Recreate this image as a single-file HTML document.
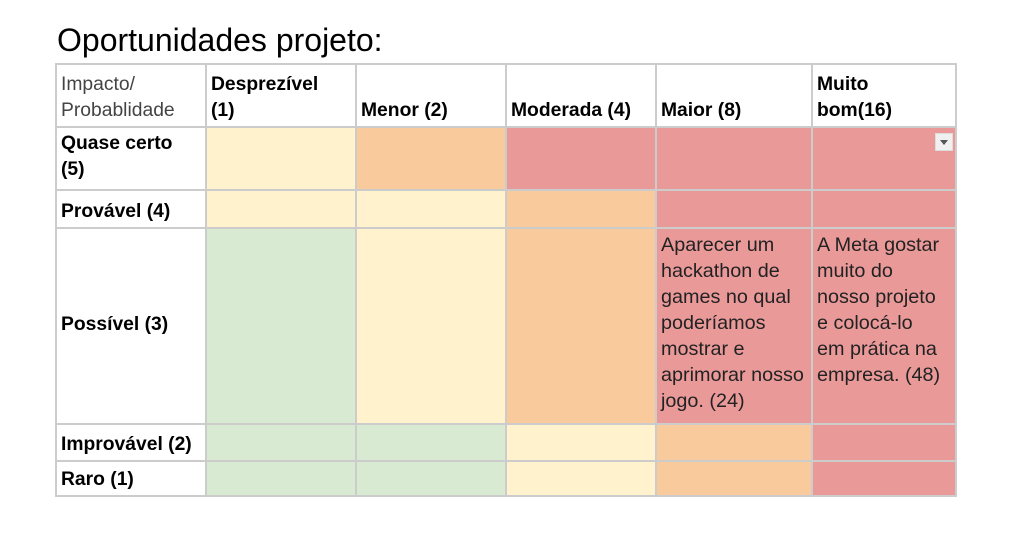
<!DOCTYPE html>
<html><head><meta charset="utf-8">
<style>
body{margin:0;width:1014px;height:549px;background:#fff;position:relative;overflow:hidden;font-family:"Liberation Sans",Arial,sans-serif;}
.t{position:absolute;left:57px;top:21px;font-size:32px;color:#000;line-height:38px;}
.c{position:absolute;box-sizing:border-box;border:2px solid #cccccc;padding:0 4px 2px 4px;font-size:19.3px;line-height:26px;color:#000;display:flex;flex-direction:column;justify-content:flex-end;white-space:nowrap;}
.b{font-weight:bold;}
.hd{color:#444;}
.top{justify-content:flex-start;padding-top:3px;}
.mid{justify-content:center;}
.y{background:#fff2cc}.o{background:#f9cb9c}.r{background:#ea9999}.g{background:#d9ead3}
.txt{color:#222;font-size:19.8px;}
.dd{position:absolute;right:2px;top:5px;width:18px;height:18px;background:#f0f0f0;border:1px solid #ddd;box-sizing:border-box;}
.dd:after{content:"";position:absolute;left:4px;top:6px;border-left:4px solid transparent;border-right:4px solid transparent;border-top:5px solid #555;}
</style></head><body>
<div class="t">Oportunidades projeto:</div>
<div id="grid"></div>
<script>
const xs=[55,205,355,505,655,811,955];
const ys=[63,126,189,227,423,460,495];
const cells=[
 [["Impacto/<br>Probablidade","hd",""],["Desprezível<br>(1)","b",""],["Menor (2)","b",""],["Moderada (4)","b",""],["Maior (8)","b",""],["Muito<br>bom(16)","b",""]],
 [["Quase certo<br>(5)","b top",""],["","y",""],["","o",""],["","r",""],["","r",""],["","r",""]],
 [["Provável (4)","b",""],["","y",""],["","y",""],["","o",""],["","r",""],["","r",""]],
 [["Possível (3)","b mid",""],["","g",""],["","y",""],["","o",""],["Aparecer um<br>hackathon de<br>games no qual<br>poderíamos<br>mostrar e<br>aprimorar nosso<br>jogo. (24)","r top txt",""],["A Meta gostar<br>muito do<br>nosso projeto<br>e colocá-lo<br>em prática na<br>empresa. (48)","r top txt",""]],
 [["Improvável (2)","b",""],["","g",""],["","g",""],["","y",""],["","o",""],["","r",""]],
 [["Raro (1)","b",""],["","g",""],["","g",""],["","y",""],["","o",""],["","r",""]]
];
const g=document.getElementById('grid');
cells.forEach((row,ri)=>row.forEach((cell,ci)=>{
 const d=document.createElement('div');
 d.className='c '+cell[1];
 d.style.left=xs[ci]+'px';d.style.top=ys[ri]+'px';
 d.style.width=(xs[ci+1]-xs[ci]+2)+'px';d.style.height=(ys[ri+1]-ys[ri]+2)+'px';
 d.innerHTML='<div>'+cell[0]+'</div>';
 
 
 if(ri==1&&ci==5){const k=document.createElement('div');k.className='dd';
  
  
  d.appendChild(k);}
 g.appendChild(d);
}));
</script>
</body></html>
